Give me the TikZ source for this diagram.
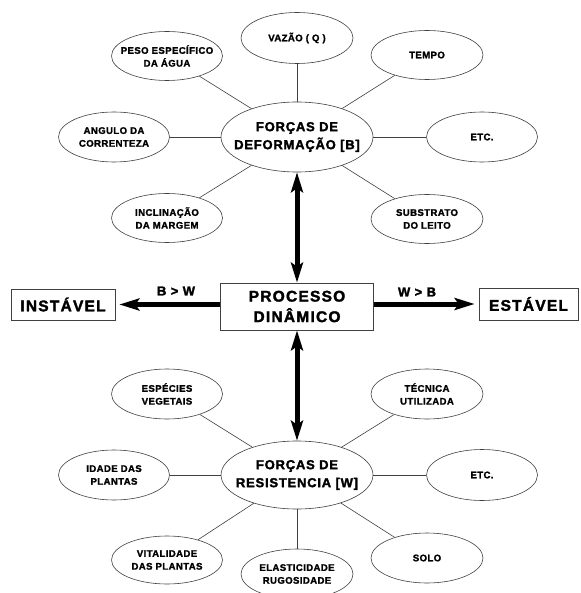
\documentclass[tikz,border=0pt]{standalone}
\usepackage{fontspec}
\setmainfont{Liberation Sans}
\newfontfamily\lsf[LetterSpace=4, FakeBold=1.6]{Liberation Sans Bold}
\newfontfamily\lsfw[LetterSpace=6, FakeBold=2]{Liberation Sans Bold}
\newfontfamily\lsfx[LetterSpace=8, FakeBold=2]{Liberation Sans Bold}
\usetikzlibrary{shapes.geometric,arrows.meta}
\tikzset{
  thin line/.style={draw=black!75, line width=0.6pt},
  sm/.style={ellipse, thin line, minimum width=111pt, minimum height=49pt, inner sep=0pt},
  smtxt/.style={align=center, font=\lsf\fontsize{9.6}{12.8}\selectfont, inner sep=0pt},
  bg/.style={ellipse, thin line, minimum width=152pt, minimum height=70pt, inner sep=0pt},
  bgtxt/.style={align=center, font=\lsfw\fontsize{13}{18}\selectfont, inner sep=0pt},
  boxtxt/.style={draw=black!75, line width=0.7pt, align=center, inner sep=0pt, font=\lsfx\fontsize{15.5}{20.5}\selectfont},
  reltxt/.style={font=\lsfw\fontsize{13}{15}\selectfont, inner sep=0pt},
  conn/.style={thin line},
  bigarrow/.style={line width=5pt, >={Stealth[length=20pt,width=12pt,inset=4pt]}, ->},
  dblarrow/.style={line width=5pt, >={Stealth[length=20pt,width=12pt,inset=4pt]}, <->},
}
\begin{document}
\begin{tikzpicture}[x=1pt,y=-1pt]
\useasboundingbox[fill=white] (0,0) rectangle (580,593);

% top cluster
\node[bg] (fb) at (297,137) {};
\node[bgtxt] at (fb.center) {FORÇAS DE\\DEFORMAÇÃO [B]};
\node[sm, minimum height=51pt, minimum width=112pt] (vaz) at (297,38) {};
\node[smtxt] at (vaz.center) {VAZÃO ( Q )};
\node[sm] (peso) at (167,56) {};
\node[smtxt] at (peso.center) {PESO ESPECÍFICO\\DA ÁGUA};
\node[sm, minimum width=112pt] (tempo) at (427,55) {};
\node[smtxt] at (tempo.center) {TEMPO};
\node[sm, minimum height=50pt] (ang) at (114,137) {};
\node[smtxt] at (ang.center) {ANGULO DA\\CORRENTEZA};
\node[sm, minimum height=50pt] (etc1) at (482,137) {};
\node[smtxt] at (etc1.center) {ETC.};
\node[sm] (incl) at (167,218) {};
\node[smtxt] at (incl.center) {INCLINAÇÃO\\DA MARGEM};
\node[sm, minimum width=112pt] (subs) at (427,219) {};
\node[smtxt] at (subs.center) {SUBSTRATO\\DO LEITO};

\foreach \n in {vaz,peso,tempo,ang,etc1,incl,subs} \draw[conn] (fb) -- (\n);

% middle
\node[boxtxt, minimum width=153pt, minimum height=47pt] (proc) at (297,306.5) {PROCESSO\\DINÂMICO};
\node[boxtxt, minimum width=104pt, minimum height=31pt] (inst) at (63,304.5) {INSTÁVEL};
\node[boxtxt, minimum width=99pt, minimum height=32pt] (est) at (528.5,304) {ESTÁVEL};
\draw[bigarrow, shorten >=4pt] (proc.west |- inst.east) -- (inst.east);
\draw[bigarrow, shorten >=4pt] (proc.east |- est.west) -- (est.west);
\node[reltxt] (bw) at (176,291) {B > W};
\node[reltxt] (wb) at (417,292) {W > B};

% bottom cluster
\node[bg, minimum height=68pt] (fw) at (297,475) {};
\node[bgtxt] at (fw.center) {FORÇAS DE\\RESISTENCIA [W]};
\node[sm, minimum height=50pt] (esp) at (167,394) {};
\node[smtxt] at (esp.center) {ESPÉCIES\\VEGETAIS};
\node[sm, minimum width=112pt, minimum height=50pt] (tec) at (427,394) {};
\node[smtxt] at (tec.center) {TÉCNICA\\UTILIZADA};
\node[sm, minimum height=50pt] (idade) at (114,475) {};
\node[smtxt] at (idade.center) {IDADE DAS\\PLANTAS};
\node[sm, minimum height=51pt] (etc2) at (482,475) {};
\node[smtxt] at (etc2.center) {ETC.};
\node[sm, minimum height=48pt] (vit) at (167,560) {};
\node[smtxt] at (vit.center) {VITALIDADE\\DAS PLANTAS};
\node[sm, minimum width=112pt, minimum height=50pt] (elas) at (297,574) {};
\node[smtxt] at (elas.center) {ELASTICIDADE\\RUGOSIDADE};
\node[sm, minimum width=112pt, minimum height=50pt] (solo) at (427,558) {};
\node[smtxt] at (solo.center) {SOLO};

\foreach \n in {esp,tec,idade,etc2,vit,elas,solo} \draw[conn] (fw) -- (\n);

% vertical arrows
\draw[dblarrow] (fb.south) -- (proc.north);
\draw[dblarrow] (proc.south) -- (fw.north);
\end{tikzpicture}
\end{document}
